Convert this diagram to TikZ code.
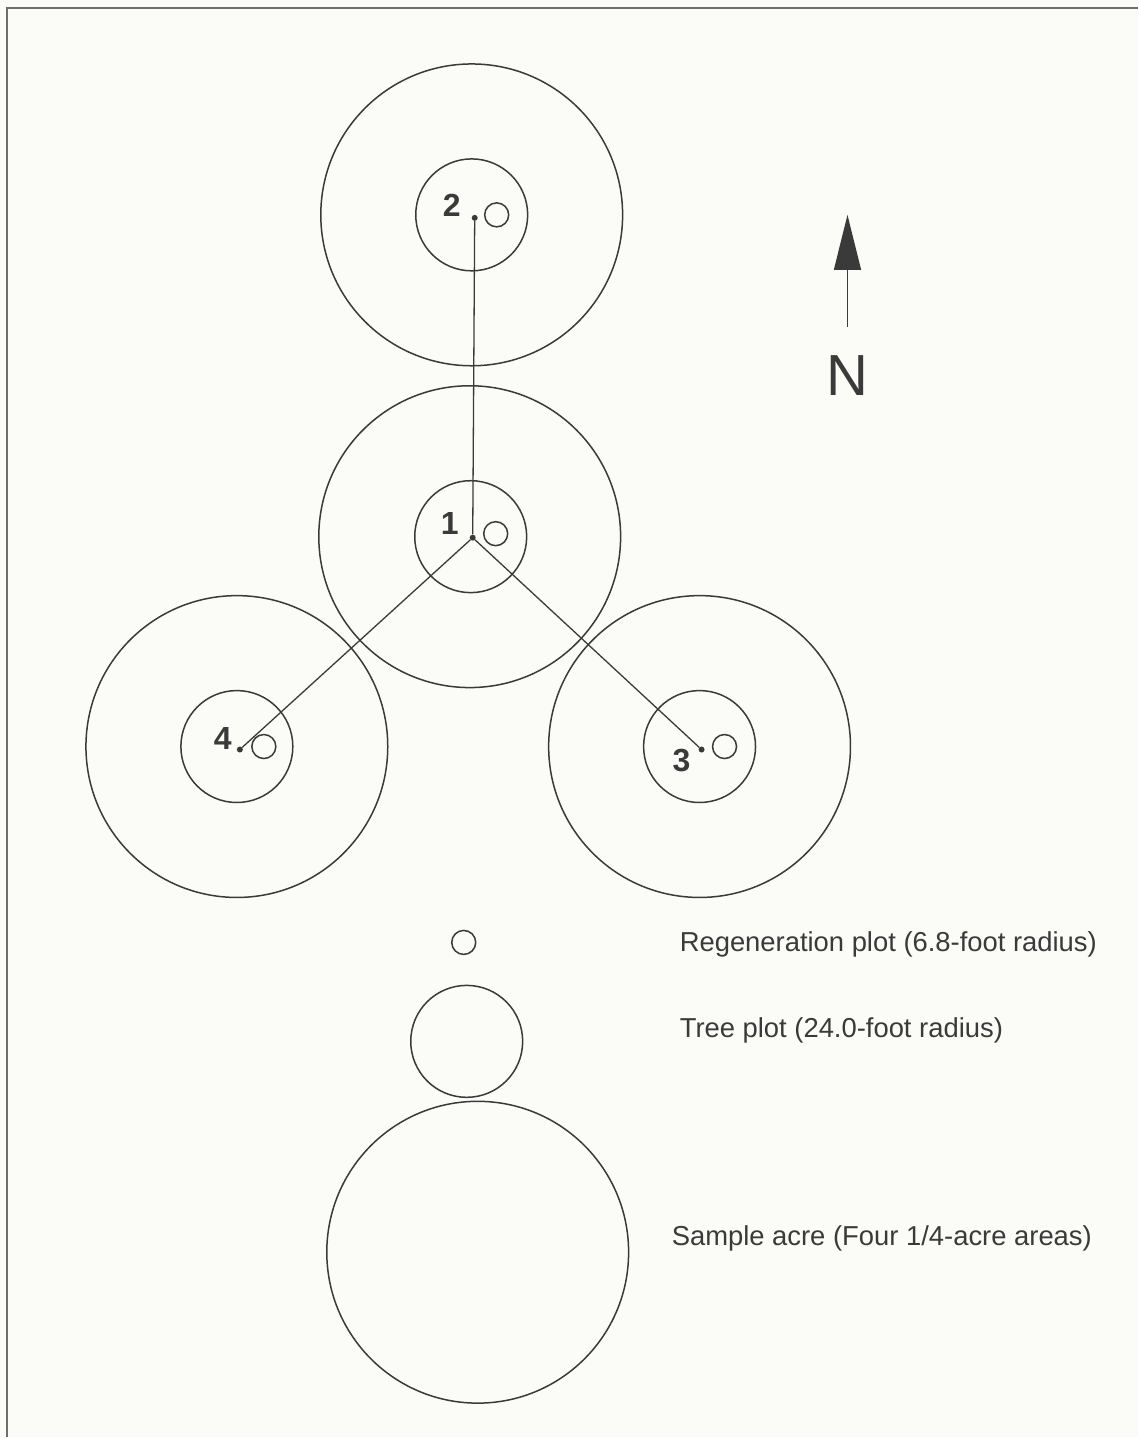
\documentclass[tikz,border=0pt]{standalone}
\usepackage{fontspec}
\setmainfont{Liberation Sans}
\usepackage{tikz}
\usetikzlibrary{arrows.meta,positioning}
\definecolor{ink}{RGB}{58,58,58}
\definecolor{paper}{RGB}{251,251,247}
\definecolor{rule}{RGB}{110,110,110}
\tikzset{
  acrering/.style={circle, draw=ink, line width=1.5pt, minimum size=302pt, inner sep=0pt},
  treering/.style={circle, draw=ink, line width=1.5pt, minimum size=112pt, inner sep=0pt},
  regenring/.style={circle, draw=ink, line width=1.5pt, minimum size=24pt, inner sep=0pt},
  centerdot/.style={circle, fill=ink, minimum size=6pt, inner sep=0pt},
  plotnum/.style={text=ink, font=\fontsize{32}{36}\selectfont\bfseries, inner sep=0pt},
  legendtext/.style={text=ink, font=\fontsize{27.4}{32}\selectfont, anchor=base west, inner sep=0pt},
  link/.style={draw=ink, line width=1.3pt},
  northarrow/.style={-{Triangle[length=55pt,width=27pt]}, draw=ink, fill=ink, line width=1.3pt}
}
\begin{document}
\begin{tikzpicture}[x=1pt,y=-1pt]
\fill[paper] (0,0) rectangle (1139,1438);
\draw[rule, line width=1.8pt] (7,1438) -- (7,8) -- (1139,8);

% Plot 2 (north)
\node[acrering] (acre2) at (472,215) {};
\node[treering] (tree2) at (472,215) {};
\node[regenring] (regen2) at (497,215) {};
\node[centerdot] (p2) at (475,218) {};
\node[plotnum] (n2) at (452,205) {2};

% Plot 1 (center)
\node[acrering] (acre1) at (470,537) {};
\node[treering] (tree1) at (471,537) {};
\node[regenring] (regen1) at (496,534) {};
\node[centerdot] (p1) at (473,538) {};
\node[plotnum] (n1) at (450,524) {1};

% Plot 4 (southwest)
\node[acrering] (acre4) at (237,747) {};
\node[treering] (tree4) at (237,747) {};
\node[regenring] (regen4) at (264,747) {};
\node[centerdot] (p4) at (240,750) {};
\node[plotnum] (n4) at (223,739) {4};

% Plot 3 (southeast)
\node[acrering] (acre3) at (700,747) {};
\node[treering] (tree3) at (700,747) {};
\node[regenring] (regen3) at (725,747) {};
\node[centerdot] (p3) at (702,750) {};
\node[plotnum] (n3) at (682,761) {3};

% Connections
\draw[link] (p1) -- (p2);
\draw[link] (p1) -- (p3);
\draw[link] (p1) -- (p4);

% North arrow
\coordinate (ntail) at (848,327);
\coordinate (ntip) at (848,215);
\draw[northarrow] (ntail) -- (ntip);
\node[text=ink, font=\fontsize{58}{64}\selectfont, inner sep=0pt] (north) at (848,376) {N};

% Legend
\node[regenring] (keyregen) at (464,943) {};
\node[treering] (keytree) at (467,1042) {};
\node[acrering] (keyacre) at (478,1253) {};
\node[legendtext] (lregen) at (680,952) {Regeneration plot (6.8-foot radius)};
\node[legendtext] (ltree) at (680,1038) {Tree plot (24.0-foot radius)};
\node[legendtext] (lacre) at (672,1246) {Sample acre (Four 1/4-acre areas)};
\end{tikzpicture}
\end{document}
